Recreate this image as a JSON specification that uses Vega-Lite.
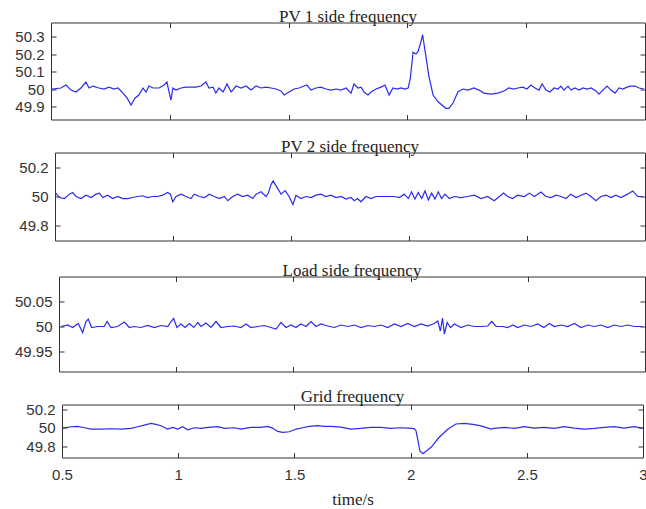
{
"$schema": "https://vega.github.io/schema/vega-lite/v6.json",
"padding": {"left": 3, "top": 7.5, "right": 1, "bottom": 1},
"spacing": 0,
"bounds": "full",
"config": {
  "view": {"stroke": "#333333", "strokeWidth": 1},
  "axis": {"grid": false, "domain": false, "tickSize": -5, "tickColor": "#333333", "tickWidth": 1, "labelFont": "Liberation Sans", "labelFontSize": 15, "labelColor": "#333333", "labelPadding": 12, "labelFlush": false, "titleFont": "Liberation Serif", "titleFontSize": 17, "titleFontWeight": "normal", "titleColor": "#222222"},
  "title": {"font": "Liberation Serif", "fontSize": 17, "fontWeight": "normal", "color": "#222222", "baseline": "alphabetic", "offset": -4, "anchor": "middle"},
  "line": {"color": "#2b2bf0", "strokeWidth": 1.2}
},
"datasets": {
"p1": [{"t":0.504,"v":50.0},{"t":0.542,"v":50.006},{"t":0.563,"v":50.023},{"t":0.584,"v":49.994},{"t":0.605,"v":49.983},{"t":0.626,"v":50.006},{"t":0.647,"v":50.04},{"t":0.66,"v":50.006},{"t":0.677,"v":50.017},{"t":0.702,"v":50.006},{"t":0.723,"v":50.0},{"t":0.744,"v":50.011},{"t":0.765,"v":50.0},{"t":0.782,"v":50.006},{"t":0.803,"v":49.977},{"t":0.82,"v":49.949},{"t":0.837,"v":49.909},{"t":0.854,"v":49.949},{"t":0.87,"v":49.966},{"t":0.887,"v":50.006},{"t":0.9,"v":49.983},{"t":0.912,"v":50.017},{"t":0.929,"v":50.006},{"t":0.955,"v":50.006},{"t":0.976,"v":50.023},{"t":0.988,"v":50.04},{"t":0.997,"v":49.983},{"t":1.005,"v":49.937},{"t":1.013,"v":50.006},{"t":1.026,"v":49.994},{"t":1.047,"v":50.006},{"t":1.068,"v":50.011},{"t":1.089,"v":50.011},{"t":1.11,"v":50.011},{"t":1.131,"v":50.017},{"t":1.152,"v":50.04},{"t":1.165,"v":50.006},{"t":1.182,"v":50.011},{"t":1.194,"v":49.977},{"t":1.207,"v":50.006},{"t":1.224,"v":49.983},{"t":1.241,"v":50.029},{"t":1.258,"v":49.983},{"t":1.279,"v":50.017},{"t":1.3,"v":50.006},{"t":1.321,"v":50.017},{"t":1.342,"v":49.994},{"t":1.363,"v":50.017},{"t":1.384,"v":50.006},{"t":1.405,"v":50.011},{"t":1.426,"v":50.006},{"t":1.447,"v":50.0},{"t":1.468,"v":49.989},{"t":1.481,"v":49.966},{"t":1.502,"v":49.983},{"t":1.523,"v":50.0},{"t":1.544,"v":50.006},{"t":1.565,"v":50.017},{"t":1.577,"v":50.023},{"t":1.594,"v":49.994},{"t":1.615,"v":50.006},{"t":1.636,"v":50.011},{"t":1.657,"v":50.0},{"t":1.678,"v":49.994},{"t":1.7,"v":50.0},{"t":1.72,"v":49.994},{"t":1.742,"v":50.006},{"t":1.763,"v":49.977},{"t":1.775,"v":50.029},{"t":1.792,"v":50.006},{"t":1.805,"v":50.011},{"t":1.817,"v":49.983},{"t":1.834,"v":49.966},{"t":1.847,"v":49.983},{"t":1.868,"v":50.0},{"t":1.889,"v":50.011},{"t":1.906,"v":50.023},{"t":1.923,"v":49.966},{"t":1.939,"v":50.006},{"t":1.956,"v":50.0},{"t":1.973,"v":50.006},{"t":1.99,"v":50.0},{"t":2.003,"v":50.006},{"t":2.012,"v":50.06},{"t":2.024,"v":50.21},{"t":2.036,"v":50.2},{"t":2.045,"v":50.215},{"t":2.055,"v":50.26},{"t":2.064,"v":50.31},{"t":2.078,"v":50.185},{"t":2.091,"v":50.07},{"t":2.108,"v":49.966},{"t":2.129,"v":49.927},{"t":2.162,"v":49.89},{"t":2.175,"v":49.89},{"t":2.192,"v":49.92},{"t":2.213,"v":49.985},{"t":2.234,"v":50.0},{"t":2.255,"v":49.994},{"t":2.28,"v":50.006},{"t":2.301,"v":49.994},{"t":2.322,"v":49.977},{"t":2.351,"v":49.971},{"t":2.381,"v":49.977},{"t":2.406,"v":49.989},{"t":2.427,"v":50.006},{"t":2.448,"v":50.0},{"t":2.465,"v":50.006},{"t":2.486,"v":50.011},{"t":2.503,"v":50.0},{"t":2.52,"v":50.023},{"t":2.537,"v":50.006},{"t":2.554,"v":49.994},{"t":2.567,"v":50.029},{"t":2.583,"v":49.994},{"t":2.6,"v":49.983},{"t":2.617,"v":50.006},{"t":2.634,"v":50.0},{"t":2.646,"v":50.017},{"t":2.659,"v":49.994},{"t":2.676,"v":50.017},{"t":2.689,"v":49.994},{"t":2.705,"v":50.006},{"t":2.722,"v":49.994},{"t":2.739,"v":50.006},{"t":2.756,"v":50.0},{"t":2.773,"v":50.006},{"t":2.794,"v":49.989},{"t":2.806,"v":49.971},{"t":2.823,"v":49.994},{"t":2.84,"v":50.017},{"t":2.857,"v":49.994},{"t":2.874,"v":49.977},{"t":2.891,"v":50.006},{"t":2.907,"v":50.0},{"t":2.924,"v":50.011},{"t":2.941,"v":50.017},{"t":2.958,"v":50.017},{"t":2.975,"v":50.006},{"t":2.996,"v":50.0}],
"p2": [{"t":0.504,"v":50.023},{"t":0.518,"v":49.993},{"t":0.54,"v":49.986},{"t":0.561,"v":50.016},{"t":0.575,"v":50.027},{"t":0.589,"v":50.0},{"t":0.61,"v":49.986},{"t":0.631,"v":50.009},{"t":0.653,"v":49.993},{"t":0.674,"v":50.016},{"t":0.688,"v":50.023},{"t":0.702,"v":49.993},{"t":0.723,"v":50.009},{"t":0.744,"v":49.986},{"t":0.766,"v":50.0},{"t":0.787,"v":49.986},{"t":0.808,"v":49.986},{"t":0.829,"v":49.993},{"t":0.85,"v":50.0},{"t":0.871,"v":50.005},{"t":0.893,"v":49.993},{"t":0.914,"v":50.0},{"t":0.935,"v":50.0},{"t":0.956,"v":50.009},{"t":0.977,"v":50.027},{"t":0.989,"v":50.016},{"t":0.999,"v":49.964},{"t":1.013,"v":50.0},{"t":1.034,"v":50.016},{"t":1.055,"v":50.0},{"t":1.076,"v":49.986},{"t":1.09,"v":50.016},{"t":1.112,"v":50.0},{"t":1.133,"v":49.993},{"t":1.154,"v":50.016},{"t":1.175,"v":50.0},{"t":1.196,"v":49.986},{"t":1.218,"v":50.0},{"t":1.232,"v":49.971},{"t":1.253,"v":50.0},{"t":1.274,"v":50.016},{"t":1.295,"v":50.0},{"t":1.316,"v":50.009},{"t":1.338,"v":49.986},{"t":1.352,"v":50.016},{"t":1.373,"v":50.032},{"t":1.394,"v":50.0},{"t":1.403,"v":50.02},{"t":1.415,"v":50.08},{"t":1.424,"v":50.106},{"t":1.436,"v":50.074},{"t":1.458,"v":50.016},{"t":1.475,"v":50.04},{"t":1.492,"v":50.0},{"t":1.508,"v":49.945},{"t":1.521,"v":50.007},{"t":1.542,"v":49.986},{"t":1.564,"v":50.0},{"t":1.585,"v":49.993},{"t":1.606,"v":50.009},{"t":1.627,"v":50.016},{"t":1.648,"v":50.0},{"t":1.669,"v":50.009},{"t":1.691,"v":49.993},{"t":1.712,"v":50.0},{"t":1.733,"v":49.982},{"t":1.754,"v":49.993},{"t":1.768,"v":49.971},{"t":1.782,"v":49.986},{"t":1.796,"v":49.964},{"t":1.818,"v":50.0},{"t":1.839,"v":49.986},{"t":1.86,"v":50.0},{"t":1.881,"v":50.0},{"t":1.91,"v":50.0},{"t":1.938,"v":50.0},{"t":1.959,"v":49.993},{"t":1.98,"v":50.016},{"t":1.997,"v":49.986},{"t":2.011,"v":50.032},{"t":2.025,"v":49.982},{"t":2.039,"v":50.027},{"t":2.054,"v":49.986},{"t":2.068,"v":50.038},{"t":2.082,"v":49.977},{"t":2.096,"v":50.023},{"t":2.11,"v":49.982},{"t":2.124,"v":50.032},{"t":2.138,"v":49.986},{"t":2.152,"v":50.016},{"t":2.171,"v":49.986},{"t":2.192,"v":50.0},{"t":2.22,"v":49.993},{"t":2.248,"v":50.0},{"t":2.277,"v":50.009},{"t":2.305,"v":49.986},{"t":2.333,"v":50.0},{"t":2.361,"v":49.971},{"t":2.383,"v":50.0},{"t":2.401,"v":50.023},{"t":2.418,"v":50.0},{"t":2.439,"v":49.986},{"t":2.46,"v":50.009},{"t":2.489,"v":50.0},{"t":2.51,"v":50.023},{"t":2.531,"v":50.0},{"t":2.559,"v":50.03},{"t":2.58,"v":50.0},{"t":2.602,"v":49.993},{"t":2.623,"v":50.009},{"t":2.644,"v":50.0},{"t":2.665,"v":49.986},{"t":2.686,"v":50.016},{"t":2.708,"v":49.993},{"t":2.729,"v":50.009},{"t":2.75,"v":50.023},{"t":2.771,"v":50.0},{"t":2.792,"v":49.971},{"t":2.813,"v":50.0},{"t":2.835,"v":50.009},{"t":2.856,"v":49.993},{"t":2.877,"v":50.009},{"t":2.898,"v":49.993},{"t":2.926,"v":50.016},{"t":2.948,"v":50.038},{"t":2.969,"v":50.0},{"t":2.99,"v":50.0}],
"p3": [{"t":0.509,"v":50.0},{"t":0.537,"v":50.003},{"t":0.558,"v":49.998},{"t":0.582,"v":50.006},{"t":0.601,"v":49.988},{"t":0.615,"v":50.01},{"t":0.625,"v":50.015},{"t":0.639,"v":49.998},{"t":0.665,"v":50.0},{"t":0.693,"v":50.0},{"t":0.705,"v":50.01},{"t":0.722,"v":49.998},{"t":0.75,"v":50.0},{"t":0.779,"v":50.009},{"t":0.8,"v":49.998},{"t":0.821,"v":50.0},{"t":0.85,"v":49.998},{"t":0.878,"v":50.002},{"t":0.907,"v":49.998},{"t":0.935,"v":50.002},{"t":0.964,"v":50.0},{"t":0.978,"v":50.01},{"t":0.989,"v":50.016},{"t":1.003,"v":49.998},{"t":1.02,"v":50.005},{"t":1.038,"v":49.998},{"t":1.056,"v":50.006},{"t":1.075,"v":49.998},{"t":1.092,"v":50.008},{"t":1.106,"v":50.0},{"t":1.127,"v":50.007},{"t":1.148,"v":49.998},{"t":1.17,"v":50.01},{"t":1.191,"v":49.998},{"t":1.22,"v":50.0},{"t":1.248,"v":50.001},{"t":1.276,"v":49.998},{"t":1.298,"v":50.005},{"t":1.319,"v":49.998},{"t":1.348,"v":50.0},{"t":1.376,"v":50.002},{"t":1.404,"v":49.998},{"t":1.426,"v":49.995},{"t":1.447,"v":50.008},{"t":1.468,"v":49.998},{"t":1.49,"v":50.003},{"t":1.511,"v":49.998},{"t":1.532,"v":50.005},{"t":1.554,"v":50.0},{"t":1.575,"v":50.01},{"t":1.596,"v":50.0},{"t":1.618,"v":50.005},{"t":1.646,"v":50.001},{"t":1.675,"v":49.998},{"t":1.703,"v":50.003},{"t":1.732,"v":50.0},{"t":1.76,"v":50.003},{"t":1.789,"v":49.998},{"t":1.817,"v":50.002},{"t":1.845,"v":50.0},{"t":1.874,"v":50.003},{"t":1.902,"v":49.998},{"t":1.931,"v":50.005},{"t":1.959,"v":50.0},{"t":1.988,"v":50.006},{"t":2.016,"v":50.0},{"t":2.045,"v":50.005},{"t":2.073,"v":50.001},{"t":2.101,"v":50.006},{"t":2.116,"v":50.011},{"t":2.127,"v":49.991},{"t":2.136,"v":50.017},{"t":2.144,"v":49.985},{"t":2.156,"v":50.008},{"t":2.17,"v":49.998},{"t":2.187,"v":50.005},{"t":2.215,"v":49.998},{"t":2.244,"v":50.003},{"t":2.272,"v":50.0},{"t":2.301,"v":50.0},{"t":2.329,"v":50.001},{"t":2.346,"v":50.01},{"t":2.365,"v":50.0},{"t":2.393,"v":50.0},{"t":2.414,"v":49.998},{"t":2.436,"v":50.003},{"t":2.457,"v":49.998},{"t":2.485,"v":50.003},{"t":2.514,"v":50.0},{"t":2.542,"v":50.005},{"t":2.568,"v":49.998},{"t":2.592,"v":50.006},{"t":2.613,"v":50.0},{"t":2.642,"v":50.003},{"t":2.67,"v":50.0},{"t":2.699,"v":50.006},{"t":2.727,"v":49.998},{"t":2.756,"v":50.003},{"t":2.784,"v":50.0},{"t":2.813,"v":50.003},{"t":2.841,"v":49.998},{"t":2.869,"v":50.003},{"t":2.898,"v":50.0},{"t":2.926,"v":50.003},{"t":2.955,"v":50.0},{"t":2.99,"v":50.0}],
"p4": [{"t":0.503,"v":49.996},{"t":0.539,"v":50.011},{"t":0.567,"v":50.014},{"t":0.596,"v":50.0},{"t":0.625,"v":49.986},{"t":0.668,"v":49.986},{"t":0.711,"v":49.989},{"t":0.754,"v":49.986},{"t":0.797,"v":49.993},{"t":0.826,"v":50.011},{"t":0.854,"v":50.029},{"t":0.883,"v":50.047},{"t":0.904,"v":50.036},{"t":0.926,"v":50.022},{"t":0.955,"v":49.986},{"t":0.976,"v":50.004},{"t":0.998,"v":49.986},{"t":1.019,"v":50.011},{"t":1.041,"v":49.978},{"t":1.069,"v":50.0},{"t":1.098,"v":49.993},{"t":1.127,"v":50.004},{"t":1.17,"v":50.011},{"t":1.199,"v":49.993},{"t":1.242,"v":50.0},{"t":1.27,"v":49.986},{"t":1.313,"v":50.004},{"t":1.356,"v":50.004},{"t":1.385,"v":50.014},{"t":1.406,"v":49.996},{"t":1.428,"v":49.96},{"t":1.45,"v":49.95},{"t":1.478,"v":49.957},{"t":1.507,"v":49.986},{"t":1.536,"v":50.0},{"t":1.564,"v":50.014},{"t":1.6,"v":50.022},{"t":1.629,"v":50.014},{"t":1.657,"v":50.014},{"t":1.7,"v":50.007},{"t":1.743,"v":49.986},{"t":1.786,"v":49.993},{"t":1.829,"v":50.004},{"t":1.872,"v":50.004},{"t":1.915,"v":49.993},{"t":1.958,"v":50.0},{"t":1.99,"v":49.996},{"t":2.015,"v":49.99},{"t":2.023,"v":49.97},{"t":2.032,"v":49.86},{"t":2.04,"v":49.75},{"t":2.053,"v":49.72},{"t":2.088,"v":49.79},{"t":2.122,"v":49.895},{"t":2.161,"v":49.986},{"t":2.195,"v":50.04},{"t":2.23,"v":50.047},{"t":2.268,"v":50.036},{"t":2.303,"v":50.02},{"t":2.346,"v":49.986},{"t":2.36,"v":49.993},{"t":2.403,"v":50.004},{"t":2.446,"v":49.993},{"t":2.489,"v":50.011},{"t":2.532,"v":49.996},{"t":2.575,"v":50.004},{"t":2.618,"v":49.993},{"t":2.661,"v":50.011},{"t":2.704,"v":49.996},{"t":2.747,"v":49.986},{"t":2.79,"v":49.993},{"t":2.833,"v":50.004},{"t":2.876,"v":50.011},{"t":2.919,"v":49.996},{"t":2.962,"v":50.011},{"t":2.998,"v":49.996}],
"pad": [{"a": 0}]
},
"vconcat": [
{"spacing": 0, "bounds": "full", "hconcat": [
{"width": 1, "height": 1, "view": {"stroke": null}, "data": {"name": "pad"}, "mark": {"type": "point", "opacity": 0, "size": 0}, "encoding": {}},
{
  "title": "PV 1 side frequency",
  "width": 594, "height": 97,
  "data": {"name": "p1"},
  "resolve": {"axis": {"x": "independent", "y": "independent"}},
  "layer": [
    {"mark": "line", "encoding": {
      "x": {"field": "t", "type": "quantitative", "scale": {"domain": [0.5, 3], "nice": false, "zero": false}, "axis": {"orient": "bottom", "labels": false, "title": null, "values": [1, 1.5, 2, 2.5], "minExtent": 17, "maxExtent": 17}},
      "y": {"field": "v", "type": "quantitative", "scale": {"domain": [49.826, 50.38], "nice": false, "zero": false}, "axis": {"orient": "left", "title": null, "values": [49.9, 50, 50.1, 50.2, 50.3], "format": "~g", "minExtent": 46, "maxExtent": 46}}
    }},
    {"mark": {"type": "line", "opacity": 0}, "encoding": {
      "x": {"field": "t", "type": "quantitative", "axis": {"orient": "top", "labels": false, "title": null, "values": [1, 1.5, 2, 2.5], "minExtent": 0, "maxExtent": 0}},
      "y": {"field": "v", "type": "quantitative", "axis": {"orient": "right", "labels": false, "title": null, "values": [49.9, 50, 50.1, 50.2, 50.3], "minExtent": 0, "maxExtent": 0}}
    }}
  ]
}]},
{"spacing": 0, "bounds": "full", "hconcat": [
{"width": 5, "height": 1, "view": {"stroke": null}, "data": {"name": "pad"}, "mark": {"type": "point", "opacity": 0, "size": 0}, "encoding": {}},
{
  "title": "PV 2 side frequency",
  "width": 590, "height": 88,
  "data": {"name": "p2"},
  "resolve": {"axis": {"x": "independent", "y": "independent"}},
  "layer": [
    {"mark": "line", "encoding": {
      "x": {"field": "t", "type": "quantitative", "scale": {"domain": [0.5, 3], "nice": false, "zero": false}, "axis": {"orient": "bottom", "labels": false, "title": null, "values": [1, 1.5, 2, 2.5], "minExtent": 20, "maxExtent": 20}},
      "y": {"field": "v", "type": "quantitative", "scale": {"domain": [49.7, 50.3], "nice": false, "zero": false}, "axis": {"orient": "left", "title": null, "values": [49.8, 50, 50.2], "format": "~g", "minExtent": 46, "maxExtent": 46}}
    }},
    {"mark": {"type": "line", "opacity": 0}, "encoding": {
      "x": {"field": "t", "type": "quantitative", "axis": {"orient": "top", "labels": false, "title": null, "values": [1, 1.5, 2, 2.5], "minExtent": 0, "maxExtent": 0}},
      "y": {"field": "v", "type": "quantitative", "axis": {"orient": "right", "labels": false, "title": null, "values": [49.8, 50, 50.2], "minExtent": 0, "maxExtent": 0}}
    }}
  ]
}]},
{"spacing": 0, "bounds": "full", "hconcat": [
{"width": 9, "height": 1, "view": {"stroke": null}, "data": {"name": "pad"}, "mark": {"type": "point", "opacity": 0, "size": 0}, "encoding": {}},
{
  "title": "Load side frequency",
  "width": 586, "height": 95,
  "data": {"name": "p3"},
  "resolve": {"axis": {"x": "independent", "y": "independent"}},
  "layer": [
    {"mark": "line", "encoding": {
      "x": {"field": "t", "type": "quantitative", "scale": {"domain": [0.5, 3], "nice": false, "zero": false}, "axis": {"orient": "bottom", "labels": false, "title": null, "values": [1, 1.5, 2, 2.5], "minExtent": 15, "maxExtent": 15}},
      "y": {"field": "v", "type": "quantitative", "scale": {"domain": [49.91, 50.1], "nice": false, "zero": false}, "axis": {"orient": "left", "title": null, "values": [49.95, 50, 50.05], "format": "~g", "minExtent": 46, "maxExtent": 46}}
    }},
    {"mark": {"type": "line", "opacity": 0}, "encoding": {
      "x": {"field": "t", "type": "quantitative", "axis": {"orient": "top", "labels": false, "title": null, "values": [1, 1.5, 2, 2.5], "minExtent": 0, "maxExtent": 0}},
      "y": {"field": "v", "type": "quantitative", "axis": {"orient": "right", "labels": false, "title": null, "values": [49.95, 50, 50.05], "minExtent": 0, "maxExtent": 0}}
    }}
  ]
}]},
{"spacing": 0, "bounds": "full", "hconcat": [
{"width": 12, "height": 1, "view": {"stroke": null}, "data": {"name": "pad"}, "mark": {"type": "point", "opacity": 0, "size": 0}, "encoding": {}},
{
  "title": "Grid frequency",
  "width": 581, "height": 53,
  "data": {"name": "p4"},
  "resolve": {"axis": {"x": "independent", "y": "independent"}},
  "layer": [
    {"mark": "line", "encoding": {
      "x": {"field": "t", "type": "quantitative", "scale": {"domain": [0.5, 3], "nice": false, "zero": false}, "axis": {"orient": "bottom", "title": "time/s", "values": [0.5, 1, 1.5, 2, 2.5, 3], "format": "~g", "labelPadding": 15, "titlePadding": 9}},
      "y": {"field": "v", "type": "quantitative", "scale": {"domain": [49.68, 50.25], "nice": false, "zero": false}, "axis": {"orient": "left", "title": null, "values": [49.8, 50, 50.2], "format": "~g", "minExtent": 46, "maxExtent": 46}}
    }},
    {"mark": {"type": "line", "opacity": 0}, "encoding": {
      "x": {"field": "t", "type": "quantitative", "axis": {"orient": "top", "labels": false, "title": null, "values": [1, 1.5, 2, 2.5], "minExtent": 0, "maxExtent": 0}},
      "y": {"field": "v", "type": "quantitative", "axis": {"orient": "right", "labels": false, "title": null, "values": [49.8, 50, 50.2], "minExtent": 0, "maxExtent": 0}}
    }}
  ]
}]}
]
}
